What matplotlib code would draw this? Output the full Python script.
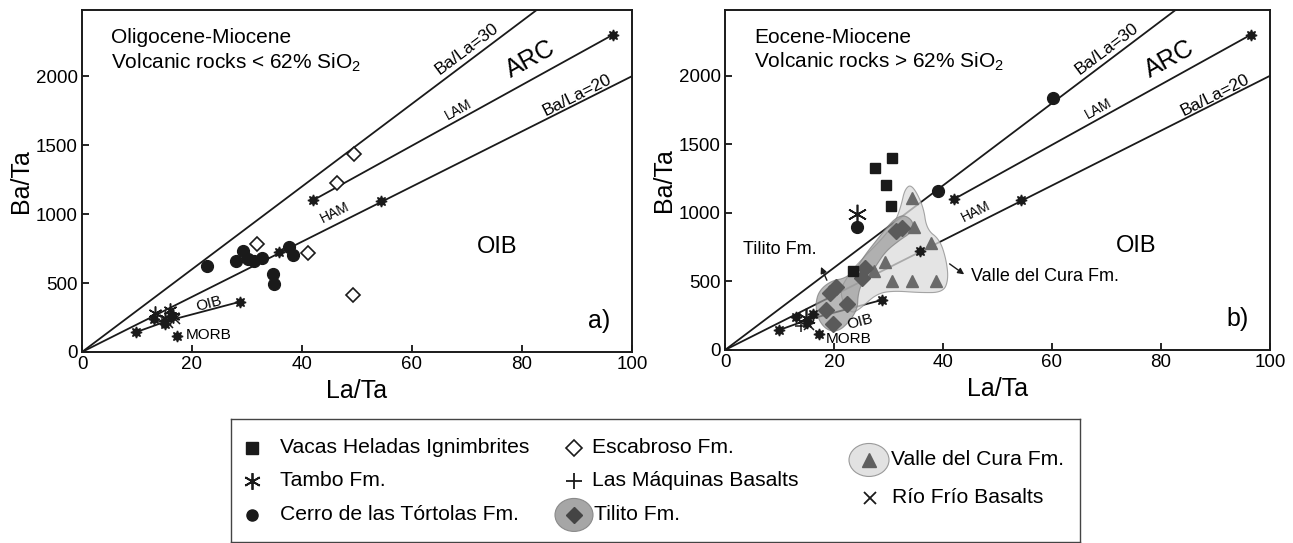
import numpy as np
import matplotlib
matplotlib.use('Agg')
import matplotlib.pyplot as plt
from matplotlib.patches import Polygon, Ellipse

plt.rcParams['font.family'] = ['Liberation Sans', 'DejaVu Sans']
plt.rcParams['mathtext.fontset'] = 'custom'
plt.rcParams['mathtext.rm'] = 'Liberation Sans'

# reference ratio lines (Ba/La)
ratio_lines = [30, 20]

# mantle end-members (filled stars), shared by both panels
lam_la = [42.0, 96.5]
lam_ba = [1100, 2300]
ham_la = [35.8, 54.3]
ham_ba = [725, 1092]
oib_la = [15.5, 28.8]
oib_ba = [225, 365]
low_la = [9.9, 15.5]
low_ba = [145, 225]
morb_la = [17.3]
morb_ba = [118]
extra_star_la = [13.0, 15.0, 16.2]
extra_star_ba = [240, 200, 260]

# panel a) Oligocene-Miocene < 62% SiO2
esc_la = [31.8, 41.1, 46.4, 49.5, 49.2]
esc_ba = [783, 717, 1225, 1435, 413]
cerro_a_la = [22.8, 28.0, 29.2, 30.2, 31.3, 32.8, 34.7, 34.9, 37.7, 38.4]
cerro_a_ba = [623, 662, 734, 671, 660, 679, 565, 493, 759, 703]
tambo_a_la = [13.3, 16.0, 15.1, 16.5]
tambo_a_ba = [280, 304, 244, 262]
maq_a_la = [14.5, 16.2]
maq_a_ba = [225, 285]
rio_a_la = [15.6, 16.9]
rio_a_ba = [212, 240]

# panel b) Eocene-Miocene > 62% SiO2
vacas_la = [27.5, 30.7, 29.5, 30.5, 23.4]
vacas_ba = [1331, 1397, 1201, 1050, 579]
cerro_b_la = [24.3, 39.1, 60.2]
cerro_b_ba = [896, 1160, 1839]
tambo_b_la = [24.3, 14.8]
tambo_b_ba = [989, 230]
valle_la = [34.4, 34.7, 37.8, 29.4, 27.4, 30.6, 34.3, 38.8]
valle_ba = [1111, 899, 777, 645, 574, 500, 500, 500]
tilito_la = [31.3, 32.5, 25.6, 25.2, 20.4, 19.2, 22.3, 18.6, 19.9]
tilito_ba = [865, 890, 600, 528, 460, 418, 338, 290, 190]
rio_b_la = [15.4]
rio_b_ba = [185]
maq_b_la = [14.0]
maq_b_ba = [175]

# field outlines
valle_field_la = [34.3, 36.4, 37.0, 39.4, 40.6, 41.0, 40.0, 35.8, 30.9, 27.8, 24.8,
                  23.0, 20.8, 23.0, 25.8, 28.8, 31.2, 32.3, 33.0]
valle_field_ba = [1210, 1050, 879, 806, 659, 513, 420, 418, 432, 410, 300,
                  262, 417, 570, 690, 810, 930, 1050, 1175]
tilito_field_la = [33.0, 34.6, 34.3, 32.0, 29.5, 27.8, 26.5, 25.0, 24.4, 24.3, 22.8,
                   20.8, 18.6, 17.0, 16.6, 17.3, 19.5, 22.2, 24.2, 25.8, 27.8, 29.8, 31.4]
tilito_field_ba = [985, 935, 860, 800, 720, 620, 540, 480, 400, 300, 205,
                   135, 145, 230, 340, 435, 505, 525, 600, 700, 800, 900, 965]

XMAX, YMAX = 100, 2480
DARK = '#1a1a1a'


def chaikin(xs, ys, n=3):
    pts = np.column_stack([xs, ys]).astype(float)
    for _ in range(n):
        nxt = np.roll(pts, -1, axis=0)
        q = 0.75 * pts + 0.25 * nxt
        r = 0.25 * pts + 0.75 * nxt
        pts = np.empty((2 * len(q), 2))
        pts[0::2] = q
        pts[1::2] = r
    return pts


def rot(ax, slope, x, y):
    ang = np.degrees(np.arctan(slope))
    return ax.transData.transform_angles(np.array([ang]), np.array([[x, y]]))[0]


def star(ax, la, ba, **kw):
    ax.plot(la, ba, ls='none', marker=(8, 1, 0), ms=8, color=DARK, zorder=6, **kw)


def panel(ax, title2, letter, oib_pos, morb_pos):
    ax.set_xlim(0, XMAX)
    ax.set_ylim(0, YMAX)
    ax.set_xticks([0, 20, 40, 60, 80, 100])
    ax.set_yticks([0, 500, 1000, 1500, 2000])
    ax.tick_params(direction='in', labelsize=13.5, length=5, width=1.2, pad=3)
    for s in ax.spines.values():
        s.set_linewidth(1.4)
        s.set_color(DARK)
    ax.set_xlabel('La/Ta', fontsize=18, labelpad=4)
    ax.set_ylabel('Ba/Ta', fontsize=18, labelpad=2)

    xr = np.array([0, XMAX])
    for r in ratio_lines:
        ax.plot(xr, r * xr, color=DARK, lw=1.3, zorder=2)

    ax.plot(lam_la, lam_ba, color=DARK, lw=1.3, zorder=2)
    ax.plot(oib_la, oib_ba, color=DARK, lw=1.3, zorder=2)
    ax.plot(low_la, low_ba, color=DARK, lw=1.3, zorder=2)
    star(ax, lam_la, lam_ba)
    star(ax, ham_la, ham_ba)
    star(ax, oib_la[1:], oib_ba[1:])
    star(ax, low_la[:1], low_ba[:1])
    star(ax, morb_la, morb_ba)
    star(ax, extra_star_la, extra_star_ba)

    s30 = rot(ax, 30, 70, 2180)
    s20 = rot(ax, 20, 90, 1850)
    slam = rot(ax, (lam_ba[1] - lam_ba[0]) / (lam_la[1] - lam_la[0]), 68, 1750)
    soib = rot(ax, (oib_ba[1] - oib_ba[0]) / (oib_la[1] - oib_la[0]), 24, 300)
    ax.text(70, 2195, 'Ba/La=30', rotation=s30, fontsize=12.5, ha='center', va='center',
            rotation_mode='anchor')
    ax.text(90, 1862, 'Ba/La=20', rotation=s20, fontsize=12.5, ha='center', va='center',
            rotation_mode='anchor')
    ax.text(81.5, 2125, 'ARC', rotation=slam, fontsize=18, ha='center', va='center',
            rotation_mode='anchor')
    ax.text(68.5, 1760, 'LAM', rotation=slam, fontsize=10, ha='center', va='center',
            rotation_mode='anchor')
    ax.text(46, 1010, 'HAM', rotation=s20, fontsize=10, ha='center', va='center',
            rotation_mode='anchor')
    ax.text(oib_pos[0], oib_pos[1], 'OIB', rotation=soib, fontsize=11, ha='center',
            va='center', rotation_mode='anchor', zorder=8)
    ax.text(morb_pos[0], morb_pos[1], 'MORB', fontsize=11, ha='left', va='center', zorder=8)
    ax.text(75.5, 760, 'OIB', fontsize=17, ha='center', va='center')
    ax.text(94, 225, letter, fontsize=18, ha='center', va='center')
    ax.text(5.3, 2280, title2[0], fontsize=15, ha='left', va='center')
    ax.text(5.3, 2100, title2[1], fontsize=15, ha='left', va='center')


fig = plt.figure(figsize=(12.93, 5.43), dpi=100)
W, H = 1293, 543
ax1 = fig.add_axes([82 / W, (H - 352) / H, 550 / W, 342 / H])
ax2 = fig.add_axes([725 / W, (H - 350) / H, 545 / W, 340 / H])

panel(ax1, ['Oligocene-Miocene', r'Volcanic rocks < 62% SiO$_\mathregular{2}$'], 'a)',
      (23.0, 350), (18.8, 120))
panel(ax2, ['Eocene-Miocene', r'Volcanic rocks > 62% SiO$_\mathregular{2}$'], 'b)',
      (24.8, 205), (18.4, 80))

# panel a symbols
ax1.plot(esc_la, esc_ba, ls='none', marker='D', ms=7.5, mfc='white', mec=DARK, mew=1.2, zorder=5)
ax1.plot(cerro_a_la, cerro_a_ba, ls='none', marker='o', ms=8.5, color=DARK, zorder=5)
ax1.plot(tambo_a_la, tambo_a_ba, ls='none', marker=(6, 2, 0), ms=10, mec=DARK, mew=1.1, zorder=5)
ax1.plot(maq_a_la, maq_a_ba, ls='none', marker='+', ms=9, mec=DARK, mew=1.1, zorder=5)
ax1.plot(rio_a_la, rio_a_ba, ls='none', marker='x', ms=7, mec=DARK, mew=1.1, zorder=5)

# panel b fields and symbols
vf = chaikin(valle_field_la, valle_field_ba)
ax2.add_patch(Polygon(vf, closed=True, fc='#dcdcdc', ec='#8a8a8a', lw=0.8, alpha=0.75, zorder=3))
tf = chaikin(tilito_field_la, tilito_field_ba)
ax2.add_patch(Polygon(tf, closed=True, fc='#9a9a9a', ec='#7a7a7a', lw=0.8, alpha=0.7, zorder=3))
ax2.plot(valle_la, valle_ba, ls='none', marker='^', ms=9, color='#6a6a6a', zorder=5)
ax2.plot(tilito_la, tilito_ba, ls='none', marker='D', ms=8, color='#5a5a5a', zorder=5)
ax2.plot(vacas_la, vacas_ba, ls='none', marker='s', ms=7.5, color=DARK, zorder=5)
ax2.plot(cerro_b_la, cerro_b_ba, ls='none', marker='o', ms=8.5, color=DARK, zorder=5)
ax2.plot(tambo_b_la, tambo_b_ba, ls='none', marker=(6, 2, 0), ms=14, mec=DARK, mew=1.2, zorder=5)
ax2.plot(rio_b_la, rio_b_ba, ls='none', marker='x', ms=7, mec=DARK, mew=1.1, zorder=5)
ax2.plot(maq_b_la, maq_b_ba, ls='none', marker='+', ms=9, mec=DARK, mew=1.1, zorder=5)

ax2.annotate('', xy=(17.4, 625), xytext=(18.9, 490),
             arrowprops=dict(arrowstyle='-|>', color=DARK, lw=1, mutation_scale=9), zorder=6)
ax2.text(10.0, 735, 'Tilito Fm.', fontsize=13, ha='center', va='center')
ax2.annotate('', xy=(44.3, 540), xytext=(40.8, 640),
             arrowprops=dict(arrowstyle='-|>', color=DARK, lw=1, mutation_scale=9), zorder=6)
ax2.text(45.2, 537, 'Valle del Cura Fm.', fontsize=13, ha='left', va='center')

# legend box (pixel coordinates)
LR = 1080
lg = fig.add_axes([231 / W, 0.002, (LR - 231) / W, (543 - 419) / H - 0.002])
lg.set_xlim(231, LR)
lg.set_ylim(542, 419)
lg.set_xticks([])
lg.set_yticks([])
for s in lg.spines.values():
    s.set_linewidth(1.0)
    s.set_color('#444444')

fs = 15.2
lg.plot([252], [448], marker='s', ms=8, color=DARK, ls='none')
lg.text(280, 448, 'Vacas Heladas Ignimbrites', fontsize=fs, va='center')
lg.plot([252], [481], marker=(6, 2, 0), ms=12, mec=DARK, mew=1.3, ls='none')
lg.text(280, 481, 'Tambo Fm.', fontsize=fs, va='center')
lg.plot([252], [515], marker='o', ms=8, color=DARK, ls='none')
lg.text(280, 515, 'Cerro de las Tórtolas Fm.', fontsize=fs, va='center')

lg.plot([574], [448], marker='D', ms=8, mfc='white', mec=DARK, mew=1.2, ls='none')
lg.text(592, 448, 'Escabroso Fm.', fontsize=fs, va='center')
lg.plot([574], [481], marker='+', ms=11, mec=DARK, mew=1.3, ls='none')
lg.text(592, 481, 'Las Máquinas Basalts', fontsize=fs, va='center')
lg.add_patch(Ellipse((574, 515), 38, 33, fc='#a6a6a6', ec='#8a8a8a', lw=0.8))
lg.plot([574], [515], marker='D', ms=8, color='#444444', ls='none')
lg.text(594, 515, 'Tilito Fm.', fontsize=fs, va='center')

lg.add_patch(Ellipse((869, 460), 40, 33, fc='#e2e2e2', ec='#9a9a9a', lw=0.8))
lg.plot([869], [460], marker='^', ms=10, color='#5f5f5f', ls='none')
lg.text(891, 460, 'Valle del Cura Fm.', fontsize=fs, va='center')
lg.plot([870], [498], marker='x', ms=9, mec=DARK, mew=1.3, ls='none')
lg.text(892, 498, 'Río Frío Basalts', fontsize=fs, va='center')

fig.savefig('out.png', dpi=100)
